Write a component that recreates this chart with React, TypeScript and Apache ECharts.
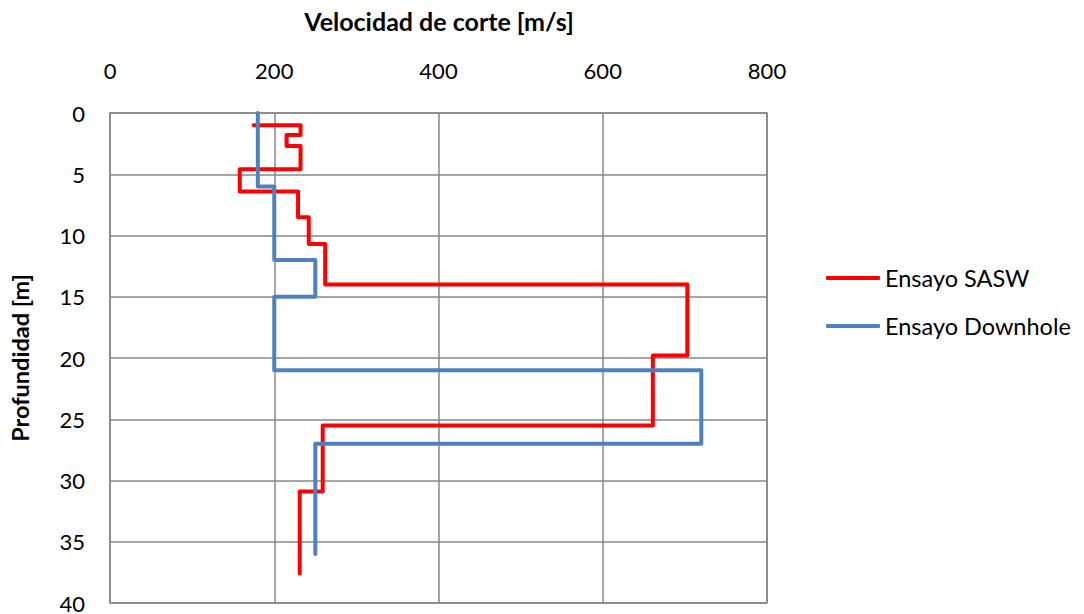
import React, { useEffect, useRef } from "react";
import * as echarts from "echarts";

const xTitle = "Velocidad de corte [m/s]";
const yTitle = "Profundidad [m]";
const seriesNames = ["Ensayo SASW", "Ensayo Downhole"];

// [velocity m/s, depth m]
const saswVel = [175, 232, 232, 215, 215, 232, 232, 158, 158, 229, 229, 242, 242, 262, 262, 703, 703, 661, 661, 259, 259, 231, 231];
const saswDepth = [1, 1, 1.8, 1.8, 2.7, 2.7, 4.6, 4.6, 6.4, 6.4, 8.5, 8.5, 10.7, 10.7, 14, 14, 19.8, 19.8, 25.5, 25.5, 30.9, 30.9, 37.6];

const dhVel = [180, 180, 200, 200, 250, 250, 200, 200, 720, 720, 250, 250];
const dhDepth = [0, 6, 6, 12, 12, 15, 15, 21, 21, 27, 27, 36];

const FONT = "Lato, 'Open Sans', sans-serif";

export default function App() {
  const ref = useRef<HTMLDivElement>(null);
  useEffect(() => {
    if (!ref.current) return;
    const chart = echarts.init(ref.current, undefined, { renderer: "svg" });
    const sasw = saswVel.map((v, i) => [v, saswDepth[i]]);
    const dh = dhVel.map((v, i) => [v, dhDepth[i]]);
    chart.setOption({
      animation: false,
      backgroundColor: "#ffffff",
      textStyle: { fontFamily: FONT },
      grid: {
        left: 108,
        top: 113,
        width: 659,
        height: 491,
        show: true,
        borderColor: "#878787",
        borderWidth: 1.5,
      },
      title: {
        text: xTitle,
        left: 434,
        top: 3,
        textAlign: "center",
        textStyle: { fontFamily: FONT, fontSize: 25, fontWeight: "bold", color: "#000" },
      },
      xAxis: {
        type: "value",
        position: "top",
        min: 0,
        max: 800,
        interval: 200,
        axisLine: { show: false },
        axisTick: { show: false },
        axisLabel: { fontFamily: FONT, fontSize: 22, color: "#000", margin: 32 },
        splitLine: { show: true, lineStyle: { color: "#878787", width: 1.5 } },
      },
      yAxis: {
        type: "value",
        inverse: true,
        min: 0,
        max: 40,
        interval: 5,
        name: yTitle,
        nameLocation: "middle",
        nameGap: 78,
        nameRotate: 90,
        nameTextStyle: { fontFamily: FONT, fontSize: 23.5, fontWeight: "bold", color: "#000" },
        axisLine: { show: false },
        axisTick: { show: false },
        axisLabel: { fontFamily: FONT, fontSize: 22, lineHeight: 18, color: "#000", margin: 25 },
        splitLine: { show: true, lineStyle: { color: "#878787", width: 1.5 } },
      },
      legend: {
        orient: "vertical",
        left: 821,
        top: 261,
        padding: 5,
        itemWidth: 54,
        itemHeight: 4,
        itemGap: 24,
        icon: "roundRect",
        textStyle: { fontFamily: FONT, fontSize: 23.5, color: "#000" },
        data: seriesNames,
      },
      series: [
        {
          name: seriesNames[0],
          type: "line",
          data: sasw,
          showSymbol: false,
          symbol: "none",
          color: "#ff0000",
          lineStyle: { color: "#ff0000", width: 4, cap: "round", join: "round" },
        },
        {
          name: seriesNames[1],
          type: "line",
          data: dh,
          showSymbol: false,
          symbol: "none",
          color: "#4f81bd",
          lineStyle: { color: "#4f81bd", width: 4, cap: "round", join: "round" },
        },
      ],
    });
    return () => chart.dispose();
  }, []);
  return (
    <div
      ref={ref}
      style={{ position: "absolute", left: 0, top: 0, width: 1084, height: 614 }}
    />
  );
}
